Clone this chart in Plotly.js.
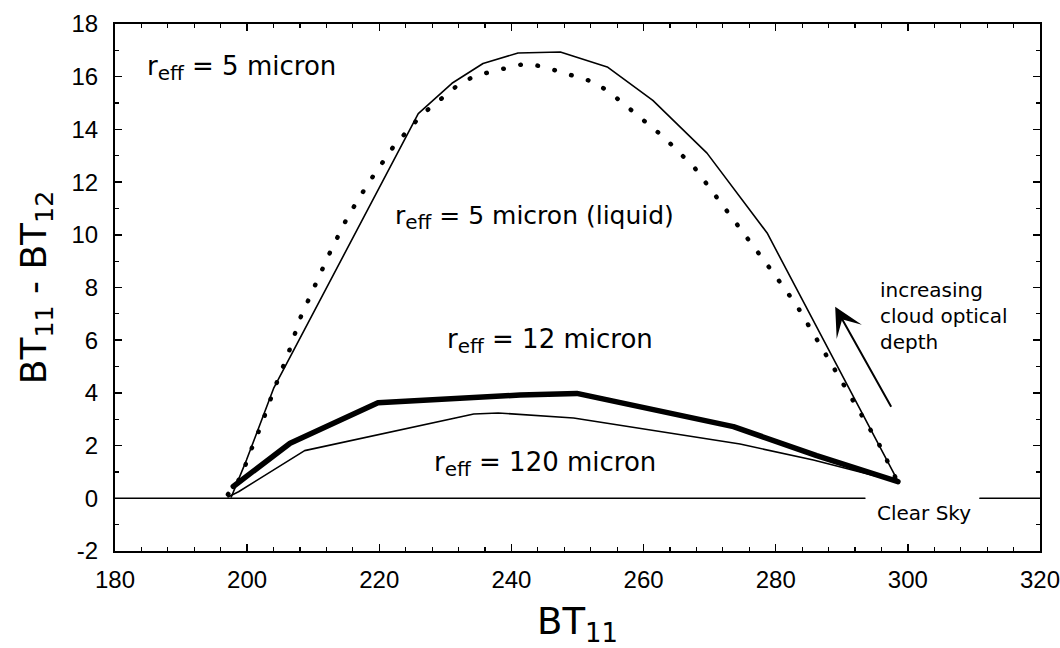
<!DOCTYPE html>
<html><head><meta charset="utf-8">
<script src="https://cdn.plot.ly/plotly-3.0.1.min.js"></script>
<style>
body{margin:0;background:#fff}
#chart .js-line{stroke-linecap:round;stroke-linejoin:round}
</style>
</head><body>
<div id="chart" style="width:1060px;height:648px"></div>
<script>
// r_eff = 5 micron (liquid) – dotted curve
const liquid5X = [197.1,199.2,200.1,202.2,204.1,206.2,208.0,210.3,212.7,215.3,218.5,222.1,226.4,231.6,234.2,236.9,239.5,242.2,244.8,247.4,250.0,252.6,255.2,257.8,263.0,267.7,271.7,275.6,279.5,283.2,286.4,289.6,292.7,295.7,298.3];
const liquid5Y = [0.15,0.85,1.53,2.82,4.15,5.47,6.82,8.1,9.42,10.72,12.02,13.33,14.55,15.62,16.0,16.19,16.34,16.5,16.38,16.19,15.98,15.79,15.34,14.8,13.72,12.55,11.23,9.93,8.6,7.31,5.97,4.65,3.35,2.02,0.7];
// r_eff = 5 micron – thin solid curve
const ice5X = [197.6,199.9,204.0,225.9,231.0,235.7,241.0,247.4,254.5,261.4,269.6,278.7,284.1,298.5];
const ice5Y = [0.05,1.45,4.17,14.6,15.75,16.5,16.9,16.94,16.37,15.1,13.1,10.07,7.5,0.65];
// r_eff = 12 micron – thick curve
const ice12X = [197.9,206.5,219.8,241.3,249.9,258.4,273.6,286.2,298.5];
const ice12Y = [0.45,2.09,3.63,3.92,3.98,3.54,2.72,1.62,0.63];
// r_eff = 120 micron – thin curve
const ice120X = [197.1,198.7,208.7,234.3,238.0,249.4,274.6,285.7,298.5];
const ice120Y = [0.05,0.25,1.81,3.2,3.24,3.05,2.06,1.45,0.63];
// clear-sky reference line (broken around its label)
const clearSkyX = [180,293.5,null,310.9,320];
const clearSkyY = [0,0,null,0,0];
// axis ticks
const xTicks = [180,200,220,240,260,280,300,320];
const yTicks = [-2,0,2,4,6,8,10,12,14,16,18];
// labels
const SUB = '<sub><span style="font-size:20px">eff</span></sub>';
const labels = [
  {text:'r' + SUB + ' = 5 micron', x:184.5, y:16.33, size:26},
  {text:'r' + SUB + ' = 5 micron (liquid)', x:222.1, y:10.64, size:25},
  {text:'r' + SUB + ' = 12 micron', x:229.9, y:5.97, size:26},
  {text:'r' + SUB + ' = 120 micron', x:228.0, y:1.30, size:26},
  {text:'Clear Sky', x:295.0, y:-0.56, size:20},
  {text:'increasing<br>cloud optical<br>depth', x:295.5, y:6.92, size:20}
];
const arrowTail = {x:297.6, y:3.42};
const arrowHead = {x:289.0, y:7.27};

const FONT = 'DejaVu Sans, Arial, sans-serif';
const TICKFONT = 'Liberation Sans, Arial, sans-serif';
const traces = [
  {x:clearSkyX, y:clearSkyY, mode:'lines', line:{color:'#000', width:1.6}, connectgaps:false, hoverinfo:'skip'},
  {x:ice120X, y:ice120Y, mode:'lines', line:{color:'#000', width:1.6}},
  {x:ice12X, y:ice12Y, mode:'lines', line:{color:'#000', width:5.5}},
  {x:ice5X, y:ice5Y, mode:'lines', line:{color:'#000', width:1.6}},
  {x:liquid5X, y:liquid5Y, mode:'lines', line:{color:'#000', width:4.5, dash:'0.5px,17px'}}
];
const annotations = labels.map(l => ({
  text:l.text, x:l.x, y:l.y, xref:'x', yref:'y', xanchor:'left', yanchor:'middle',
  showarrow:false, align:'left', font:{family:FONT, size:l.size, color:'#000'}
}));
annotations.push({x:arrowHead.x, y:arrowHead.y, ax:arrowTail.x, ay:arrowTail.y, axref:'x', ayref:'y',
  xref:'x', yref:'y', text:'', showarrow:true, arrowhead:3, arrowsize:2.4, arrowwidth:2, arrowcolor:'#000'});

const axisCommon = {
  showline:true, linecolor:'#000', linewidth:2, mirror:'allticks',
  ticks:'inside', ticklen:7, tickwidth:1.5, tickcolor:'#000',
  showgrid:false, zeroline:false, ticklabeloverflow:'allow',
  tickfont:{family:TICKFONT, size:24, color:'#000'}
};
const layout = {
  width:1060, height:648,
  margin:{l:115, r:20, t:24, b:97},
  paper_bgcolor:'#fff', plot_bgcolor:'#fff',
  showlegend:false,
  xaxis:Object.assign({}, axisCommon, {
    range:[180,320], tickvals:xTicks, ticktext:xTicks.map(String),
    minor:{dtick:4, tick0:180, ticks:'inside', ticklen:4, tickwidth:1.2, tickcolor:'#000'},
    ticklabelstandoff:6,
    title:{text:'BT<sub>11</sub>', font:{family:FONT, size:37, color:'#000'}, standoff:20}
  }),
  yaxis:Object.assign({}, axisCommon, {
    range:[-2,18], tickvals:yTicks, ticktext:yTicks.map(String),
    minor:{dtick:1, tick0:0, ticks:'inside', ticklen:4, tickwidth:1.2, tickcolor:'#000'},
    ticklabelstandoff:10,
    title:{text:'BT<sub>11</sub> - BT<sub>12</sub>', font:{family:FONT, size:36, color:'#000'}, standoff:14}
  }),
  annotations:annotations
};
Plotly.newPlot('chart', traces, layout, {displayModeBar:false, staticPlot:true});
</script>
</body></html>
